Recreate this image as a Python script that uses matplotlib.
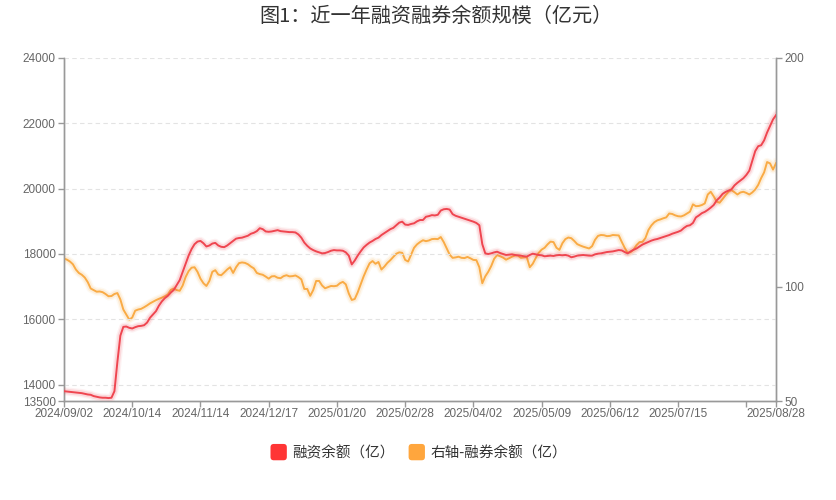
import matplotlib
matplotlib.use("Agg")
import matplotlib.pyplot as plt
import matplotlib.patheffects as pe
from matplotlib.patches import Patch, FancyBboxPatch
from matplotlib.legend_handler import HandlerPatch
import numpy as np

plt.rcParams['font.family'] = ['Noto Sans CJK SC', 'DejaVu Sans']

title = "图1：近一年融资融券余额规模（亿元）"
name_margin = "融资余额（亿）"
name_short = "右轴-融券余额（亿）"

# 融资余额 (left axis), one value per trading day
margin = [
    13800, 13790, 13780, 13770, 13760, 13750, 13740, 13720, 13700, 13690,
    13650, 13630, 13610, 13600, 13600, 13590, 13600, 13800, 14700, 15500,
    15770, 15780, 15740, 15720, 15760, 15790, 15800, 15820, 15900, 16050,
    16150, 16250, 16420, 16550, 16650, 16720, 16820, 16900, 17050, 17200,
    17450, 17700, 17950, 18150, 18300, 18380, 18400, 18330, 18230, 18260,
    18320, 18340, 18260, 18220, 18210, 18260, 18330, 18400, 18470, 18490,
    18500, 18530, 18560, 18620, 18650, 18700, 18790, 18760, 18690, 18680,
    18690, 18710, 18730, 18700, 18690, 18680, 18670, 18670, 18660, 18600,
    18500, 18350, 18250, 18170, 18120, 18080, 18050, 18020, 18030, 18060,
    18100, 18120, 18110, 18110, 18100, 18050, 17950, 17680, 17800, 17950,
    18080, 18200, 18280, 18350, 18400, 18460, 18500, 18580, 18640, 18700,
    18760, 18800, 18880, 18960, 18990, 18900, 18890, 18920, 18940, 19000,
    19040, 19040, 19140, 19160, 19190, 19180, 19200, 19330, 19370, 19380,
    19360, 19220, 19170, 19140, 19110, 19080, 19050, 19020, 18990, 18950,
    18880, 18300, 18020, 18000, 18020, 18050, 18070, 18030, 18000, 17970,
    17980, 17990, 17970, 17960, 17950, 17930, 17920, 17970, 18010, 17990,
    17970, 17960, 17930, 17940, 17950, 17940, 17960, 17970, 17960, 17970,
    17950, 17900, 17920, 17950, 17960, 17970, 17960, 17950, 17950, 17990,
    18010, 18020, 18040, 18060, 18070, 18080, 18100, 18120, 18110, 18060,
    18020, 18080, 18130, 18170, 18230, 18290, 18330, 18370, 18410, 18440,
    18460, 18490, 18520, 18550, 18580, 18620, 18650, 18680, 18720, 18800,
    18860, 18880, 18950, 19120, 19180, 19250, 19290, 19350, 19420, 19500,
    19640, 19730, 19840, 19900, 19940, 19980, 20100, 20180, 20250, 20320,
    20420, 20550, 20850, 21150, 21300, 21330, 21480, 21720, 21920, 22120,
    22250,
]

# 融券余额 (right axis)
short = [
    112.3, 111.8, 111.0, 109.8, 107.5, 106.0, 105.2, 104.0, 102.0, 99.2,
    98.5, 97.8, 97.9, 97.6, 96.8, 95.8, 95.9, 96.8, 97.2, 94.4,
    90.0, 87.8, 85.6, 86.5, 89.5, 90.0, 90.3, 91.0, 91.8, 92.7,
    93.4, 94.1, 94.7, 95.2, 95.8, 96.6, 98.6, 99.2, 98.5, 98.2,
    100.5, 104.2, 106.8, 108.3, 108.5, 106.5, 103.5, 101.5, 100.3, 102.5,
    106.5, 107.2, 105.3, 105.0, 106.2, 107.5, 108.5, 106.0, 108.5, 110.3,
    110.6, 110.4, 109.8, 108.8, 108.0, 106.0, 105.5, 105.2, 104.4, 103.5,
    104.5, 104.6, 103.9, 103.7, 104.6, 105.0, 104.5, 104.6, 104.9, 104.2,
    103.2, 99.0, 99.0, 96.0, 98.5, 102.5, 102.5, 100.5, 99.3, 99.8,
    100.3, 100.2, 100.4, 101.5, 102.1, 101.0, 97.0, 94.2, 94.6, 97.5,
    101.0, 104.5, 107.5, 110.2, 111.2, 110.0, 110.8, 107.5, 108.8, 110.4,
    111.6, 113.0, 114.4, 115.0, 114.8, 111.7, 111.0, 114.0, 117.0, 118.5,
    119.5, 120.3, 119.9, 120.2, 120.8, 120.9, 120.8, 121.7, 119.5, 116.8,
    114.0, 112.6, 112.8, 113.1, 112.6, 112.5, 113.0, 112.4, 111.7, 111.6,
    108.5, 101.5, 104.5, 106.5, 109.0, 112.2, 113.8, 113.3, 112.7, 111.8,
    112.4, 113.1, 113.6, 113.6, 112.6, 112.8, 112.9, 108.5, 110.0, 112.5,
    114.8, 116.2, 117.0, 118.5, 119.7, 119.5, 117.0, 116.1, 119.0, 120.8,
    121.5, 121.2, 120.0, 118.6, 118.0, 117.5, 117.1, 116.7, 117.7, 120.5,
    122.2, 122.6, 122.5, 122.1, 122.2, 122.6, 122.5, 122.4, 119.6, 117.0,
    114.8, 115.1, 116.2, 118.2, 119.5, 119.6, 121.3, 124.8, 126.8, 128.2,
    129.0, 129.4, 129.9, 130.3, 132.0, 131.8, 131.2, 130.8, 130.7, 131.2,
    132.0, 132.8, 136.0, 135.2, 135.3, 135.7, 136.4, 140.3, 141.5, 139.5,
    137.2, 136.7, 138.3, 140.0, 141.5, 142.2, 141.3, 140.3, 141.2, 141.5,
    141.0, 140.3, 141.2, 142.5, 144.5, 147.5, 150.0, 154.5, 153.9, 151.2,
    154.0,
]

tick_pos = [0, 23, 46, 69, 92, 115, 138, 161, 184, 207, 230, 240]
tick_labels = ["2024/09/02", "2024/10/14", "2024/11/14", "2024/12/17",
               "2025/01/20", "2025/02/28", "2025/04/02", "2025/05/09",
               "2025/06/12", "2025/07/15", "", "2025/08/28"]
left_ticks = [13500, 14000, 16000, 18000, 20000, 22000, 24000]
right_ticks = [50, 100, 200]

red = '#ef4650'
orange = '#f9ab45'
axis_gray = '#999999'
text_gray = '#666666'

fig = plt.figure(figsize=(8.36, 5.0), dpi=100)
ax = fig.add_axes([64 / 836, 99 / 500, 712 / 836, 343 / 500])
ax2 = ax.twinx()

x1 = np.arange(len(margin))
x2 = np.arange(len(short))


def glow(color):
    return [pe.Stroke(linewidth=6, foreground=color, alpha=0.07),
            pe.Stroke(linewidth=4, foreground=color, alpha=0.14),
            pe.Normal()]


ax2.plot(x2, short, color=orange, lw=1.4, path_effects=glow(orange), zorder=3)
ax.plot(x1, margin, color=red, lw=1.4, path_effects=glow(red), zorder=4)
ax.set_zorder(ax2.get_zorder() + 1)
ax.patch.set_visible(False)

ax.set_xlim(0, 240)
ax.set_ylim(13500, 24000)
ax2.set_ylim(50, 200)
ax.set_yticks(left_ticks)
ax2.set_yticks(right_ticks)
ax.set_xticks(tick_pos)
ax.set_xticklabels(tick_labels)

for g in [14000, 16000, 18000, 20000, 22000, 24000]:
    ax.axhline(g, color='#e3e3e3', lw=0.8, ls=(0, (4, 3)), zorder=0)

for a in (ax, ax2):
    a.spines['top'].set_visible(False)
    for s in ('left', 'right', 'bottom'):
        a.spines[s].set_color(axis_gray)
        a.spines[s].set_linewidth(1.0)
    a.tick_params(colors=axis_gray, labelcolor=text_gray, labelsize=8.5,
                  length=4, width=1.0)
    for lab in a.get_xticklabels() + a.get_yticklabels():
        lab.set_family(['Liberation Sans', 'DejaVu Sans'])
ax.tick_params(axis='x', pad=1)
ax.tick_params(axis='y', pad=2)
ax2.tick_params(axis='y', pad=2)

fig.text(0.521, 0.968, title, ha='center', va='center', fontsize=14.5, color='#333333')


class RoundBox(HandlerPatch):
    def create_artists(self, legend, orig_handle, xdescent, ydescent,
                       width, height, fontsize, trans):
        s = height * 1.6
        p = FancyBboxPatch((width - s - xdescent, -ydescent + (height - s) / 2), s, s,
                           boxstyle="round,pad=0,rounding_size=%f" % (s * 0.2),
                           facecolor=orig_handle.get_facecolor(), edgecolor='none',
                           transform=trans)
        return [p]


handles = [Patch(facecolor='#ff3535', label=name_margin),
           Patch(facecolor='#ffa63d', label=name_short)]
fig.legend(handles=handles, loc='center', bbox_to_anchor=(0.5, 0.094), ncol=2,
           frameon=False, fontsize=10.5, handletextpad=0.35, columnspacing=0.9,
           handlelength=1.2, labelcolor='#333333',
           handler_map={Patch: RoundBox()})

fig.savefig('out.png', dpi=100)
